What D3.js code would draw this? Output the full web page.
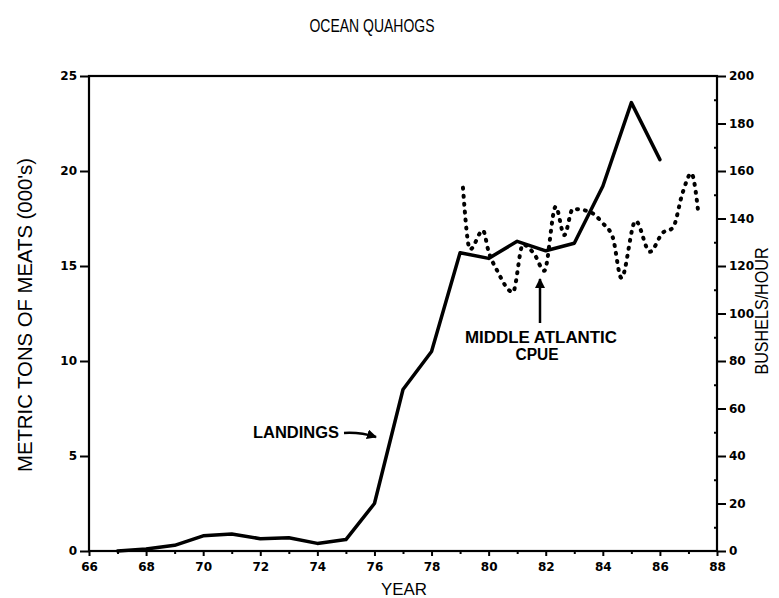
<!DOCTYPE html>
<html>
<head>
<meta charset="utf-8">
<script src="https://cdn.jsdelivr.net/npm/d3@7"></script>
<style>
  html, body { margin: 0; padding: 0; background: #fff; }
  svg { display: block; }
  .tick text { font-family: "DejaVu Sans", sans-serif; font-weight: bold; font-size: 12px; fill: #000; }
  .lbl { font-family: "Liberation Sans", "DejaVu Sans", sans-serif; fill: #000; }
</style>
</head>
<body>
<svg id="chart" width="779" height="598"></svg>
<script>
// ---- data ----
const title = "OCEAN QUAHOGS";
const xLabel = "YEAR";
const yLeftLabel = "METRIC TONS OF MEATS (000's)";
const yRightLabel = "BUSHELS/HOUR";

const landingYears  = [67, 68, 69, 70, 71, 72, 73, 74, 75, 76, 77, 78, 79, 80, 81, 82, 83, 84, 85, 86];
const landingValues = [0.0, 0.1, 0.3, 0.8, 0.9, 0.65, 0.7, 0.4, 0.6, 2.5, 8.5, 10.5, 15.7, 15.4, 16.3, 15.8, 16.2, 19.2, 23.6, 20.6];

const cpueYears  = [79.1, 79.35, 79.8, 80.0, 80.3, 80.85, 81.2, 81.6, 81.95, 82.35, 82.65, 82.95, 83.5, 84.0, 84.35, 84.65, 85.15, 85.65, 86.1, 86.45, 86.8, 87.1, 87.35];
const cpueValues = [153, 127, 135, 126, 118, 109, 129, 125, 118, 145, 133, 144, 143, 138, 132, 115, 139, 126, 134, 136, 151, 159, 142];

const xTicks = [66, 68, 70, 72, 74, 76, 78, 80, 82, 84, 86, 88];
const xMinorTicks = [67, 69, 71, 73, 75, 77, 79, 81, 83, 85, 87];
const yLeftTicks = [0, 5, 10, 15, 20, 25];
const yRightTicks = [0, 20, 40, 60, 80, 100, 120, 140, 160, 180, 200];
const yRightMinor = [10, 30, 50, 70, 90, 110, 130, 150, 170, 190];

const annLandings = "LANDINGS";
const annCpue1 = "MIDDLE ATLANTIC";
const annCpue2 = "CPUE";

// ---- layout ----
const L = 89, R = 717, T = 76, B = 551;
const svg = d3.select("#chart");

const x = d3.scaleLinear().domain([66, 88]).range([L, R]);
const yL = d3.scaleLinear().domain([0, 25]).range([B, T]);
const yR = d3.scaleLinear().domain([0, 200]).range([B, T]);

// arrow marker
svg.append("defs").append("marker")
  .attr("id", "arr").attr("viewBox", "0 0 10 10")
  .attr("refX", 9).attr("refY", 5)
  .attr("markerWidth", 4).attr("markerHeight", 4)
  .attr("markerUnits", "strokeWidth")
  .attr("orient", "auto")
  .append("path").attr("d", "M0,0 L10,5 L0,10 Z").attr("fill", "#000");

// frame
svg.append("rect").attr("x", L).attr("y", T).attr("width", R - L).attr("height", B - T)
  .attr("fill", "none").attr("stroke", "#000").attr("stroke-width", 2.2);

// axes
function styleAxis(g) {
  g.select(".domain").remove();
  g.selectAll(".tick line").attr("stroke", "#000").attr("stroke-width", 2);
}
svg.append("g").attr("transform", `translate(0,${B})`)
  .call(d3.axisBottom(x).tickValues(xTicks).tickFormat(d3.format("d")).tickSize(5).tickPadding(6))
  .call(styleAxis);
svg.append("g").attr("transform", `translate(0,${B})`)
  .call(d3.axisBottom(x).tickValues(xMinorTicks).tickFormat("").tickSize(3))
  .call(styleAxis);
svg.append("g").attr("transform", `translate(${L},0)`)
  .call(d3.axisLeft(yL).tickValues(yLeftTicks).tickFormat(d3.format("d")).tickSize(9).tickPadding(3))
  .call(styleAxis);
svg.append("g").attr("transform", `translate(${R},0)`)
  .call(d3.axisRight(yR).tickValues(yRightTicks).tickFormat(d3.format("d")).tickSize(9).tickPadding(3))
  .call(styleAxis);
svg.append("g").attr("transform", `translate(${R},0)`)
  .call(d3.axisLeft(yR).tickValues(yRightMinor).tickFormat("").tickSize(3))
  .call(styleAxis);

// landings line
const landings = landingYears.map((yr, i) => [yr, landingValues[i]]);
svg.append("path").datum(landings)
  .attr("fill", "none").attr("stroke", "#000").attr("stroke-width", 3.5)
  .attr("stroke-linejoin", "round").attr("stroke-linecap", "round")
  .attr("d", d3.line().x(d => x(d[0])).y(d => yL(d[1])));

// CPUE dotted line
const cpue = cpueYears.map((yr, i) => [yr, cpueValues[i]]);
svg.append("path").datum(cpue)
  .attr("fill", "none").attr("stroke", "#000").attr("stroke-width", 4)
  .attr("stroke-dasharray", "1,7").attr("stroke-linecap", "round")
  .attr("d", d3.line().curve(d3.curveMonotoneX).x(d => x(d[0])).y(d => yR(d[1])));

// texts
function txt(s, cx, cy, size, len, rot) {
  return svg.append("text").attr("class", "lbl")
    .attr("x", 0).attr("y", 0)
    .attr("text-anchor", "middle").attr("dominant-baseline", "central")
    .attr("font-size", size)
    .attr("textLength", len).attr("lengthAdjust", "spacingAndGlyphs")
    .attr("transform", `translate(${cx},${cy}) rotate(${rot || 0})`)
    .text(s);
}
txt(title, 372, 25, 19, 125, 0);
txt(xLabel, 404, 589, 17, 46, 0);
txt(yLeftLabel, 25, 315, 20, 314, -90);
txt(yRightLabel, 762, 311, 18, 127, -90);
txt(annLandings, 296, 432, 16, 86, 0).attr("font-weight", "bold");
txt(annCpue1, 541, 337, 16, 152, 0).attr("font-weight", "bold");
txt(annCpue2, 537, 354, 16, 43, 0).attr("font-weight", "bold");

// annotation arrows
svg.append("path").attr("d", "M344,433 Q360,432 376,437")
  .attr("fill", "none").attr("stroke", "#000").attr("stroke-width", 2.5)
  .attr("marker-end", "url(#arr)");
svg.append("line").attr("x1", 540).attr("y1", 323).attr("x2", 540).attr("y2", 279)
  .attr("stroke", "#000").attr("stroke-width", 2.5)
  .attr("marker-end", "url(#arr)");
</script>
</body>
</html>
